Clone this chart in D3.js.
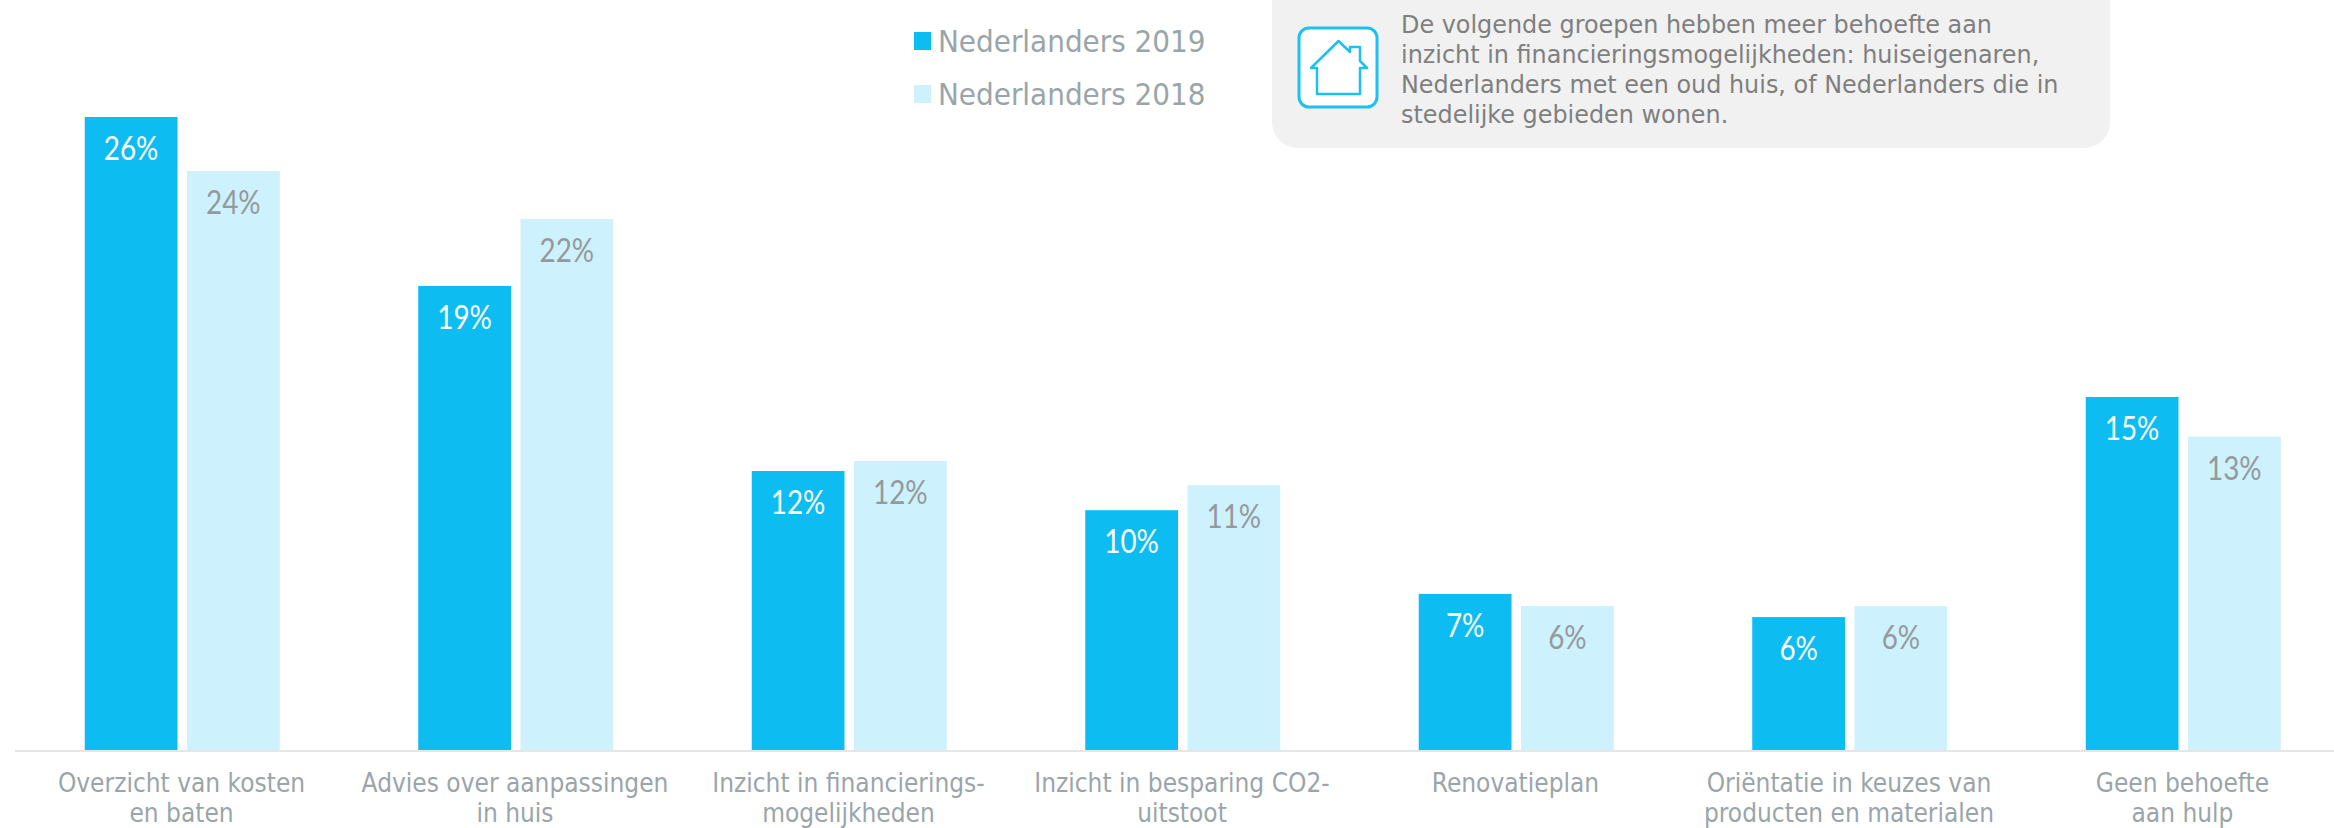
<!DOCTYPE html>
<html><head><meta charset="utf-8">
<script src="https://cdn.jsdelivr.net/npm/d3@7"></script>
<style>html,body{margin:0;padding:0;background:#fff}svg{display:block}</style></head>
<body><svg id="c" width="2334" height="828"></svg>
<script>
const categories = [
  ["Overzicht van kosten","en baten"],
  ["Advies over aanpassingen","in huis"],
  ["Inzicht in financierings-","mogelijkheden"],
  ["Inzicht in besparing CO2-","uitstoot"],
  ["Renovatieplan"],
  ["Oriëntatie in keuzes van","producten en materialen"],
  ["Geen behoefte","aan hulp"]
];
const seriesNames = ["Nederlanders 2019","Nederlanders 2018"];
const values2019 = [26.0,19.06,11.46,9.85,6.41,5.46,14.5];
const values2018 = [23.78,21.81,11.87,10.88,5.91,5.91,12.87];
const labels2019 = ["26%","19%","12%","10%","7%","6%","15%"];
const labels2018 = ["24%","22%","12%","11%","6%","6%","13%"];
const noteLines = ["De volgende groepen hebben meer behoefte aan","inzicht in financieringsmogelijkheden: huiseigenaren,","Nederlanders met een oud huis, of Nederlanders die in","stedelijke gebieden wonen."];
const colors = ["#0dbdf2","#cdf1fd"];
const FONT = "'DejaVu Sans Condensed','DejaVu Sans',sans-serif";
const NUM = "Lato,sans-serif";
const svg = d3.select("#c");
const ids = d3.range(categories.length);
const x0 = d3.scaleBand().domain(ids).range([15.25,2349.75]);
const x1 = d3.scaleBand().domain([0,1]).range([69.5,264.5]).paddingInner(0.093);
const y = d3.scaleLinear().domain([0,26]).range([750,117]);

svg.append("line").attr("x1",15).attr("x2",2334).attr("y1",751).attr("y2",751).attr("stroke","#e6e6e6").attr("stroke-width",2);

[values2019,values2018].forEach((vals,s)=>{
  const g = svg.append("g");
  g.selectAll("rect").data(vals).join("rect")
    .attr("x",(d,i)=>x0(i)+x1(s)).attr("width",x1.bandwidth())
    .attr("y",d=>y(d)).attr("height",d=>y(0)-y(d)).attr("fill",colors[s]);
  const labs = s?labels2018:labels2019;
  g.selectAll("text").data(vals).join("text")
    .attr("x",(d,i)=>x0(i)+x1(s)+x1.bandwidth()/2).attr("y",d=>y(d)+43)
    .attr("text-anchor","middle").attr("font-family",NUM).attr("font-size",32)
    .attr("fill",s?"#939a9d":"#fff").text((d,i)=>labs[i])
    .attr("lengthAdjust","spacingAndGlyphs")
    .attr("textLength",function(){return this.getComputedTextLength()*0.87;});
});

const cat = svg.append("g").attr("font-family",FONT).attr("font-size",26).attr("fill","#9aa5a9").attr("text-anchor","middle");
categories.forEach((lines,i)=>{
  const cx = x0(i)+x0.bandwidth()/2;
  lines.forEach((t,j)=>cat.append("text").attr("x",cx-0.5).attr("y",792+30*j).text(t));
});

const ly = [52,105];
seriesNames.forEach((n,i)=>{
  svg.append("rect").attr("x",914).attr("y",ly[i]-20).attr("width",17).attr("height",18).attr("fill",colors[i]);
  svg.append("text").attr("x",938).attr("y",ly[i]).attr("font-family",FONT).attr("font-size",31).attr("fill","#9aa5a9").text(n);
});

svg.append("rect").attr("x",1272).attr("y",-40).attr("width",838).attr("height",188).attr("rx",26).attr("fill","#f1f1f1");
svg.append("rect").attr("x",1299).attr("y",28).attr("width",78).attr("height",79).attr("rx",10).attr("fill","#fff").attr("stroke","#1cc1f0").attr("stroke-width",3);
svg.append("path").attr("d","M1317 68 H1311 L1338.5 41 L1350 52 V47 H1360 V61 L1367 68 H1360 V94 H1317 Z").attr("fill","none").attr("stroke","#1cc1f0").attr("stroke-width",2.5).attr("stroke-linejoin","round");
const note = svg.append("g").attr("font-family","'DejaVu Sans',sans-serif").attr("font-size",23.9).attr("fill","#7f7f7f");
noteLines.forEach((t,i)=>note.append("text").attr("x",1401).attr("y",33+30*i).text(t));
</script></body></html>
